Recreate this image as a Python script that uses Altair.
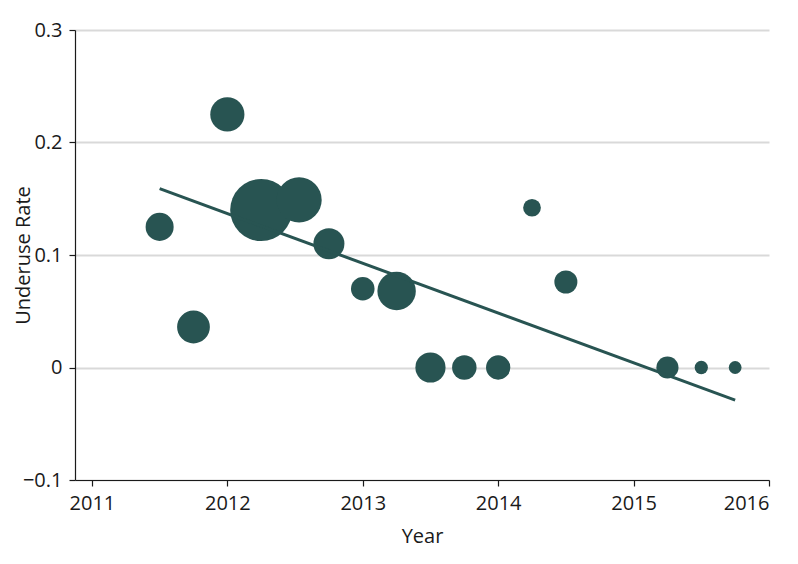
import altair as alt
import pandas as pd

# Data
years = [2011.5, 2011.75, 2012.0, 2012.25, 2012.53, 2012.75, 2013.0, 2013.25,
         2013.5, 2013.75, 2014.0, 2014.25, 2014.5, 2015.25, 2015.5, 2015.75]
rates = [0.125, 0.036, 0.225, 0.140, 0.149, 0.110, 0.070, 0.068,
         0.0, 0.0, 0.0, 0.142, 0.076, 0.0, 0.0, 0.0]
weights = [250, 342, 372, 1225, 650, 306, 177, 471,
           289, 190, 188, 100, 169, 156, 56, 52]

fit_years = [2011.5, 2015.75]
fit_rates = [0.159, -0.029]

x_ticks = [2011, 2012, 2013, 2014, 2015, 2016]
y_ticks = [-0.1, 0.0, 0.1, 0.2, 0.3]

COLOR = "#285452"
FONT = "Open Sans"
FS = 20

pts = pd.DataFrame({"year": years, "rate": rates, "weight": weights})
fit = pd.DataFrame({"year": fit_years, "rate": fit_rates})

xscale = alt.Scale(domain=[2010.875, 2016], nice=False, zero=False)
yscale = alt.Scale(domain=[-0.1, 0.3], nice=False, zero=False)

xaxis = alt.Axis(values=x_ticks, format="d", title="Year", grid=False,
                 tickSize=6, labelPadding=7, titlePadding=13)
yaxis = alt.Axis(values=y_ticks, title="Underuse Rate", grid=True,
                 labelExpr="datum.value == 0 ? '0' : replace(format(datum.value, '.1f'), '-', '\u2212')",
                 tickSize=6, labelPadding=7,
                 titleX=-46, titleY=225, titleBaseline="alphabetic", titleAlign="center",
                 titleAngle=270)

circles = alt.Chart(pts).mark_circle(color=COLOR, opacity=1).encode(
    x=alt.X("year:Q", scale=xscale, axis=xaxis),
    y=alt.Y("rate:Q", scale=yscale, axis=yaxis),
    size=alt.Size("weight:Q", scale=alt.Scale(domain=[0, 1225], range=[0, 3848]), legend=None),
)

line = alt.Chart(fit).mark_line(color=COLOR, strokeWidth=3).encode(
    x=alt.X("year:Q", scale=xscale),
    y=alt.Y("rate:Q", scale=yscale),
)

chart = alt.layer(circles, line).properties(
    width=694, height=450,
    padding={"left": 67, "top": 22, "right": 20, "bottom": 80},
    autosize=alt.AutoSizeParams(type="none"),
).configure_view(stroke=None).configure_axis(
    labelFont=FONT, titleFont=FONT, labelFontSize=FS, titleFontSize=FS,
    labelColor="#1a1a1a", titleColor="#1a1a1a", titleFontWeight="normal",
    domainColor="#1a1a1a", tickColor="#1a1a1a", domainWidth=1.2, tickWidth=1.2,
    gridColor="#d9d9d9", gridWidth=2,
)

chart.save("out.html", embed_options={"renderer": "svg", "actions": False})
